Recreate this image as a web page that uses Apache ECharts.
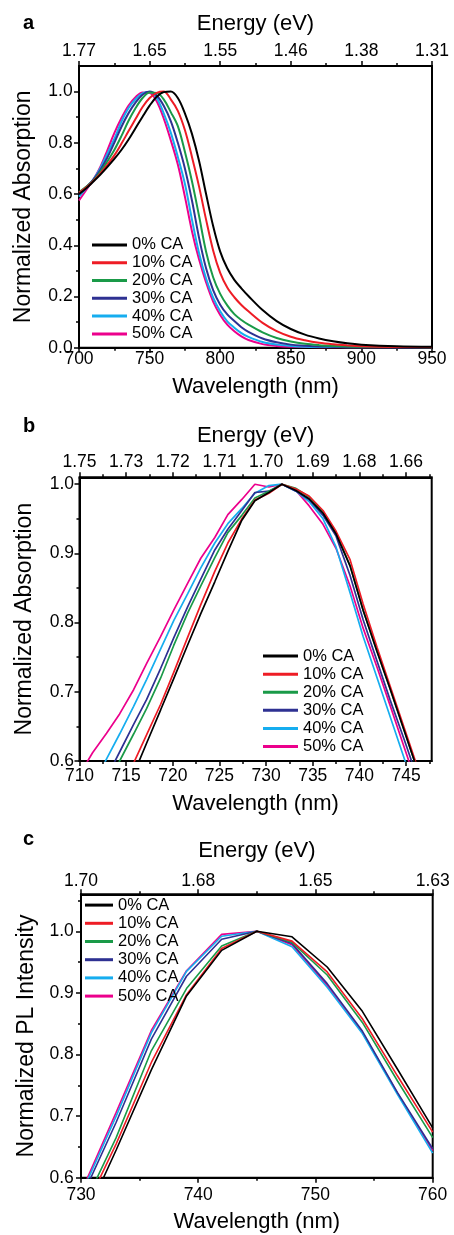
<!DOCTYPE html>
<html><head><meta charset="utf-8">
<script src="https://cdn.jsdelivr.net/npm/echarts@6/dist/echarts.min.js"></script>
<style>html,body{margin:0;padding:0;background:#fff}#c{width:454px;height:1235px}</style>
</head><body><div id="c"></div>
<script>
const FONT = '"Liberation Sans", Arial, Helvetica, sans-serif';
const seriesNames = ['0% CA', '10% CA', '20% CA', '30% CA', '40% CA', '50% CA'];
const seriesColors = ['#000000', '#ee1c25', '#1a9a48', '#2e3192', '#16adef', '#ec008c'];

// ---------- Panel a : absorption ----------
const wlA = [700,705,710,715,720,725,730,735,740,745,750,755,760,765,770,775,780,785,790,795,800,805,810,815,820,830,840,850,860,870,880,890,900,925,950];
const absA0  = [0.600,0.622,0.648,0.675,0.705,0.737,0.772,0.812,0.857,0.902,0.945,0.980,0.998,1.000,0.975,0.915,0.835,0.730,0.600,0.475,0.375,0.310,0.265,0.232,0.202,0.147,0.104,0.073,0.051,0.036,0.025,0.017,0.012,0.006,0.004];
const absA10 = [0.605,0.625,0.650,0.680,0.714,0.751,0.796,0.845,0.893,0.940,0.975,0.995,1.000,0.970,0.925,0.850,0.745,0.630,0.500,0.380,0.292,0.235,0.197,0.167,0.142,0.097,0.065,0.043,0.029,0.019,0.013,0.009,0.006,0.003,0.002];
const absA20 = [0.607,0.628,0.652,0.686,0.727,0.772,0.826,0.885,0.935,0.975,0.997,0.995,0.970,0.920,0.865,0.765,0.650,0.515,0.375,0.275,0.210,0.165,0.131,0.108,0.090,0.060,0.038,0.024,0.015,0.010,0.007,0.005,0.004,0.003,0.002];
const absA30 = [0.598,0.627,0.655,0.693,0.742,0.800,0.862,0.915,0.957,0.988,1.000,0.985,0.945,0.885,0.800,0.700,0.575,0.430,0.310,0.225,0.168,0.130,0.104,0.080,0.062,0.036,0.021,0.012,0.008,0.005,0.004,0.003,0.003,0.002,0.002];
const absA40 = [0.590,0.622,0.656,0.700,0.757,0.815,0.882,0.935,0.970,0.993,0.998,0.975,0.915,0.840,0.745,0.640,0.500,0.370,0.270,0.195,0.142,0.103,0.078,0.057,0.042,0.022,0.012,0.007,0.004,0.003,0.003,0.002,0.002,0.002,0.002];
const absA50 = [0.575,0.615,0.655,0.705,0.770,0.838,0.896,0.945,0.978,0.997,0.995,0.962,0.895,0.810,0.715,0.590,0.455,0.345,0.255,0.180,0.128,0.090,0.064,0.044,0.030,0.014,0.007,0.004,0.003,0.002,0.002,0.002,0.002,0.002,0.003];
const xMajorA = [700, 750, 800, 850, 900, 950];
const xMinorA = [725, 775, 825, 875, 925];
const energyLabelsA = ['1.77', '1.65', '1.55', '1.46', '1.38', '1.31'];
const yMajorA = [0, 0.2, 0.4, 0.6, 0.8, 1.0];
const yMinorA = [0.1, 0.3, 0.5, 0.7, 0.9];
const yLabelsA = ['0.0', '0.2', '0.4', '0.6', '0.8', '1.0'];

// ---------- Panel b : absorption (zoom) ----------
const wlB = [710.0,711.4,712.9,714.3,715.8,717.2,718.7,720.1,721.6,723.0,724.5,725.9,727.4,728.8,730.3,731.7,733.2,734.6,736.1,737.5,739.0,740.4,741.9,743.3,744.8,746.2,747.7];
const absB0  = [0.395,0.440,0.488,0.533,0.581,0.626,0.674,0.719,0.768,0.813,0.859,0.903,0.948,0.976,0.988,1.000,0.991,0.979,0.958,0.928,0.882,0.818,0.758,0.704,0.644,0.588,0.528];
const absB10 = [0.429,0.470,0.513,0.554,0.597,0.638,0.682,0.728,0.779,0.826,0.874,0.915,0.950,0.977,0.987,1.000,0.993,0.983,0.962,0.932,0.891,0.827,0.764,0.708,0.648,0.592,0.532];
const absB20 = [0.487,0.524,0.563,0.600,0.639,0.676,0.720,0.767,0.814,0.853,0.894,0.930,0.955,0.980,0.990,1.000,0.994,0.982,0.960,0.930,0.882,0.818,0.758,0.704,0.644,0.588,0.528];
const absB30 = [0.500,0.537,0.576,0.613,0.653,0.689,0.734,0.778,0.823,0.863,0.905,0.935,0.962,0.988,0.990,1.000,0.990,0.978,0.955,0.925,0.868,0.804,0.744,0.688,0.631,0.576,0.516];
const absB40 = [0.526,0.563,0.603,0.639,0.679,0.718,0.762,0.803,0.842,0.879,0.915,0.943,0.965,0.987,0.998,1.000,0.990,0.975,0.950,0.909,0.843,0.780,0.720,0.664,0.604,0.548,0.488];
const absB50 = [0.580,0.612,0.640,0.668,0.703,0.741,0.780,0.818,0.857,0.893,0.923,0.956,0.978,1.000,0.996,1.000,0.991,0.969,0.942,0.907,0.853,0.792,0.735,0.680,0.620,0.564,0.504];
const xMajorB = [710, 715, 720, 725, 730, 735, 740, 745];
const xMinorB = [712.5, 717.5, 722.5, 727.5, 732.5, 737.5, 742.5, 747.5];
const energyLabelsB = ['1.75', '1.73', '1.72', '1.71', '1.70', '1.69', '1.68', '1.66'];
const yMajorB = [0.6, 0.7, 0.8, 0.9, 1.0];
const yMinorB = [0.65, 0.75, 0.85, 0.95];
const yLabelsB = ['0.6', '0.7', '0.8', '0.9', '1.0'];

// ---------- Panel c : PL ----------
const wlC = [730, 733, 736, 739, 742, 745, 748, 751, 754, 757, 760];
const plC0  = [0.520,0.645,0.775,0.895,0.969,1.000,0.991,0.942,0.870,0.776,0.681];
const plC10 = [0.535,0.655,0.787,0.897,0.972,1.000,0.984,0.934,0.858,0.765,0.674];
const plC20 = [0.545,0.665,0.806,0.907,0.976,1.000,0.982,0.929,0.852,0.757,0.665];
const plC30 = [0.565,0.690,0.825,0.927,0.987,1.000,0.980,0.915,0.838,0.738,0.647];
const plC40 = [0.572,0.700,0.835,0.935,0.992,1.000,0.975,0.909,0.834,0.735,0.640];
const plC50 = [0.576,0.706,0.839,0.936,0.995,1.000,0.978,0.912,0.836,0.737,0.644];
const xMajorC = [730, 740, 750, 760];
const xMinorC = [735, 745, 755];
const energyLabelsC = ['1.70', '1.68', '1.65', '1.63'];
const yMajorC = [0.6, 0.7, 0.8, 0.9, 1.0];
const yMinorC = [0.65, 0.75, 0.85, 0.95, 1.05];
const yLabelsC = ['0.6', '0.7', '0.8', '0.9', '1.0'];

// ---------- layout ----------
const panels = [
  { letter: 'a', letterTop: 13.8, grid: { left: 79, top: 66, width: 353, height: 281.7 },
    xr: [700, 950], yr: [0, 1.1], wl: wlA, ys: [absA0, absA10, absA20, absA30, absA40, absA50],
    xMaj: xMajorA, xMin: xMinorA, eLab: energyLabelsA, yMaj: yMajorA, yMin: yMinorA, yLab: yLabelsA,
    yName: 'Normalized Absorption', lw: 2,
    gap: { top: 30.8, bottom: 28.5, left: 44.1 }, margin: { top: 6, bottom: 2.5, left: 6.3 },
    legend: { left: 92, top: 236, itemWidth: 35, lh: 17.8 } },
  { letter: 'b', letterTop: 416.5, grid: { left: 79.5, top: 477.3, width: 352.2, height: 283.7 },
    xr: [710, 747.75], yr: [0.6, 1.01], wl: wlB, ys: [absB0, absB10, absB20, absB30, absB40, absB50],
    xMaj: xMajorB, xMin: xMinorB, eLab: energyLabelsB, yMaj: yMajorB, yMin: yMinorB, yLab: yLabelsB,
    yName: 'Normalized Absorption', lw: 1.7,
    gap: { top: 30.8, bottom: 31.9, left: 43.4 }, margin: { top: 5.7, bottom: 6.5, left: 5.5 },
    legend: { left: 263, top: 647, itemWidth: 35, lh: 18.1 } },
  { letter: 'c', letterTop: 829.5, grid: { left: 81, top: 894.3, width: 351.7, height: 283.4 },
    xr: [730, 760], yr: [0.6, 1.06], wl: wlC, ys: [plC0, plC10, plC20, plC30, plC40, plC50],
    xMaj: xMajorC, xMin: xMinorC, eLab: energyLabelsC, yMaj: yMajorC, yMin: yMinorC, yLab: yLabelsC,
    yName: 'Normalized PL Intensity', lw: 1.6,
    gap: { top: 32.8, bottom: 32.8, left: 43.3 }, margin: { top: 3.7, bottom: 8.1, left: 7.2 },
    legend: { left: 85, top: 896, itemWidth: 28, lh: 18.2 } }
];

const tickStyle = { color: '#000', width: 1.5 };
const labelStyle = { color: '#000', fontSize: 17.5, fontFamily: FONT };
const nameStyle = { color: '#000', fontSize: 22, fontFamily: FONT };
const yNameStyle = { color: '#000', fontSize: 23, fontFamily: FONT };

function baseAxis(gi, pos, range) {
  return { type: 'value', gridIndex: gi, position: pos, min: range[0], max: range[1],
    splitLine: { show: false }, axisLine: { show: false, onZero: false } };
}
function majorAxis(gi, pos, range, ticks, fmt, margin, name, gap, nStyle) {
  const a = baseAxis(gi, pos, range);
  a.axisLine = { show: true, onZero: false, lineStyle: { color: '#000', width: 2 } };
  a.axisTick = { show: true, inside: false, length: 5, customValues: ticks, lineStyle: tickStyle };
  a.axisLabel = Object.assign({ show: true, customValues: ticks, formatter: fmt, margin: margin }, labelStyle);
  if (name) {
    a.name = name; a.nameLocation = 'middle'; a.nameGap = gap; a.nameTextStyle = nStyle;
  }
  return a;
}
function minorAxis(gi, pos, range, ticks) {
  const a = baseAxis(gi, pos, range);
  a.axisTick = { show: true, inside: false, length: 3, customValues: ticks, lineStyle: tickStyle };
  a.axisLabel = { show: false };
  return a;
}

const option = { animation: false, backgroundColor: '#fff', grid: [], xAxis: [], yAxis: [], series: [], legend: [], graphic: [] };

panels.forEach((p, gi) => {
  option.grid.push(Object.assign({ show: true, borderColor: '#000', borderWidth: 2, backgroundColor: 'transparent' }, p.grid));
  const xi = option.xAxis.length;
  const yi = option.yAxis.length;
  const wlFmt = v => String(v);
  const eFmt = v => p.eLab[p.xMaj.indexOf(v)];
  const yFmt = v => p.yLab[p.yMaj.indexOf(v)];
  option.xAxis.push(majorAxis(gi, 'bottom', p.xr, p.xMaj, wlFmt, p.margin.bottom, 'Wavelength (nm)', p.gap.bottom, nameStyle));
  option.xAxis.push(minorAxis(gi, 'bottom', p.xr, p.xMin));
  option.xAxis.push(majorAxis(gi, 'top', p.xr, p.xMaj, eFmt, p.margin.top, 'Energy (eV)', p.gap.top, nameStyle));
  option.xAxis.push(minorAxis(gi, 'top', p.xr, p.xMin));
  option.yAxis.push(majorAxis(gi, 'left', p.yr, p.yMaj, yFmt, p.margin.left, p.yName, p.gap.left, yNameStyle));
  option.yAxis.push(minorAxis(gi, 'left', p.yr, p.yMin));

  p.ys.forEach((vals, si) => {
    option.series.push({
      type: 'line', name: seriesNames[si], xAxisIndex: xi, yAxisIndex: yi,
      data: p.wl.map((x, k) => [x, vals[k]]),
      showSymbol: false, symbol: 'none', smooth: gi === 0 ? 0.35 : false, clip: true,
      lineStyle: { color: seriesColors[si], width: p.lw },
      itemStyle: { color: seriesColors[si] },
      z: 2 + (5 - si) * 0.01
    });
  });

  option.legend.push({
    data: seriesNames, orient: 'vertical', left: p.legend.left, top: p.legend.top,
    padding: 0, itemGap: 0, itemWidth: p.legend.itemWidth, itemHeight: 3, icon: 'rect',
    selectedMode: false, z: 10,
    textStyle: { color: '#000', fontSize: 16.5, fontFamily: FONT, lineHeight: p.legend.lh }
  });

  option.graphic.push({ type: 'text', left: 23, top: p.letterTop,
    style: { text: p.letter, fill: '#000', font: 'bold 20px ' + FONT } });
});

const chart = echarts.init(document.getElementById('c'), null, { renderer: 'canvas' });
chart.setOption(option);
</script>
</body></html>
